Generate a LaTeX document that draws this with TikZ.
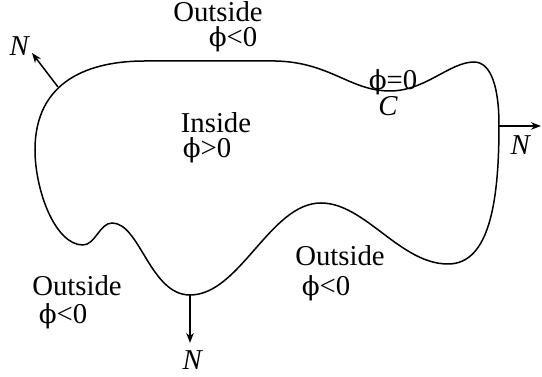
\documentclass[tikz,border=0pt]{standalone}
\usepackage{fontspec}
\setmainfont{Liberation Serif}
\newfontfamily\grego{DejaVu Serif}
\newcommand{\phis}{{\grego\fontsize{10.5}{12}\selectfont ϕ}}
\usepackage{tikz}
\usetikzlibrary{arrows.meta}

\begin{document}
\begin{tikzpicture}[x=0.4pt, y=-0.4pt, font=\fontsize{11.5}{12}\selectfont,
    curva/.style={line width=0.6pt},
    normal/.style={line width=0.6pt, ->, >={Stealth[length=4pt, width=3pt]}},
    rotulo/.style={inner sep=0pt}]
    \useasboundingbox (0,0) rectangle (542,377);

    % Fronteira C
    \draw[curva] (145,61) -- (275,61)
        .. controls (330,62) and (350,91) .. (390,91)
        .. controls (425,91) and (450,62) .. (474,62)
        .. controls (492,62) and (499,90) .. (499,125)
        .. controls (499,200) and (490,264) .. (448,264)
        .. controls (400,264) and (365,203) .. (321,203)
        .. controls (270,203) and (240,295) .. (190,295)
        .. controls (150,295) and (140,223) .. (112,223)
        .. controls (100,223) and (95,245) .. (83,245)
        .. controls (55,245) and (35,190) .. (35,150)
        .. controls (35,80) and (90,61) .. (145,61) -- cycle;

    % Pontos na fronteira
    \coordinate (pA) at (58,87);
    \coordinate (pB) at (499,126);
    \coordinate (pC) at (190,295);
    \coordinate (tA) at (32,53);
    \coordinate (tB) at (541,126);
    \coordinate (tC) at (190,343);

    % Normais
    \draw[normal] (pA) -- (tA);
    \draw[normal] (pB) -- (tB);
    \draw[normal] (pC) -- (tC);
    \node[rotulo] (nA) at (20,46) {\textit{N}};
    \node[rotulo] (nB) at (521,145) {\textit{N}};
    \node[rotulo] (nC) at (193,360) {\textit{N}};

    % Rotulos
    \node[rotulo] (fora1) at (218,12) {Outside};
    \node[rotulo] (fi1) at (233,39) {\phis<0};
    \node[rotulo] (dentro) at (216,123) {Inside};
    \node[rotulo] (fi2) at (207,150) {\phis>0};
    \node[rotulo] (zero) at (393,82) {\phis=0};
    \node[rotulo] (c) at (388,106) {\textit{C}};
    \node[rotulo] (fora2) at (77,286) {Outside};
    \node[rotulo] (fi3) at (63,316) {\phis<0};
    \node[rotulo] (fora3) at (340,256) {Outside};
    \node[rotulo] (fi4) at (326,288) {\phis<0};
\end{tikzpicture}
\end{document}
